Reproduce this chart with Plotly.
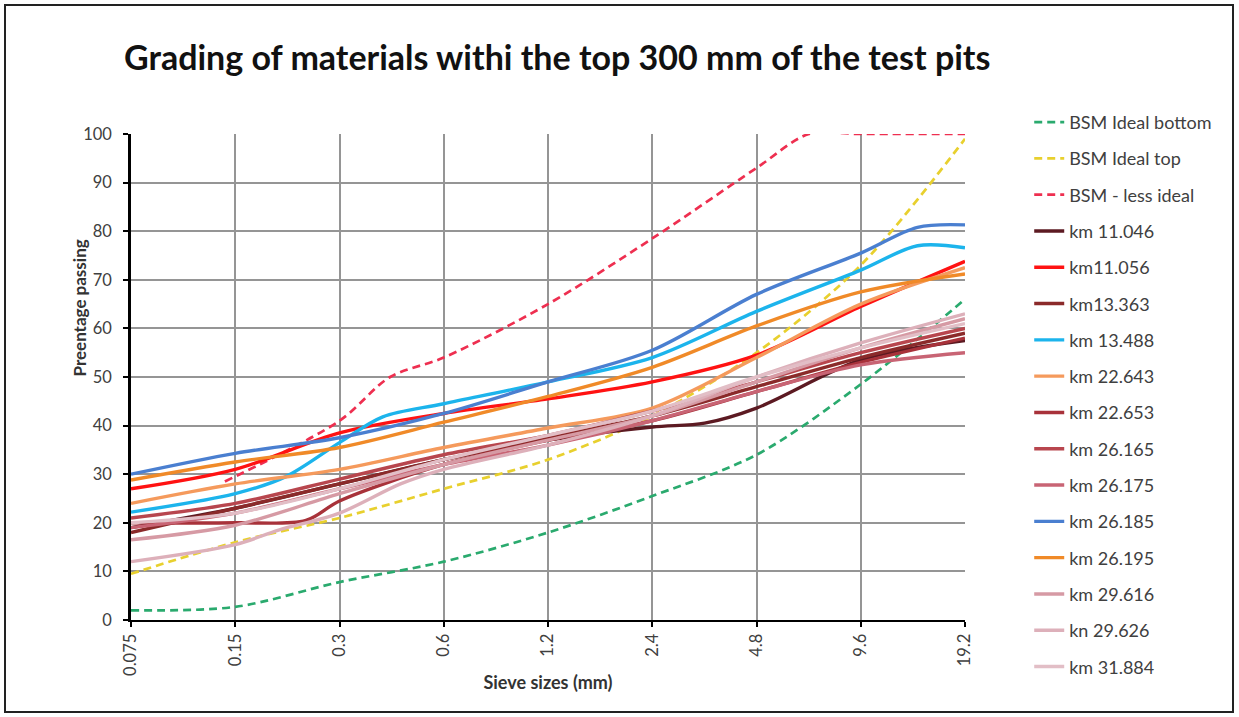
import math
import plotly.graph_objects as go

# ---------------- data ----------------
sieves = [0.075, 0.15, 0.3, 0.6, 1.2, 2.4, 4.8, 9.6, 19.2]
tick_labels = ["0.075", "0.15", "0.3", "0.6", "1.2", "2.4", "4.8", "9.6", "19.2"]

bsm_bottom_x = sieves
bsm_bottom_y = [2, 2.7, 7.8, 12, 18, 25.5, 34, 48.5, 66]

bsm_top_x = sieves
bsm_top_y = [9.5, 16, 21, 27, 33, 42, 55, 73, 99]

bsm_less_x = [0.14, 0.3, 0.42, 0.6, 1.2, 2.4, 4.8, 6.8, 9.6, 19.2]
bsm_less_y = [28.5, 41, 50, 54, 65, 78.5, 93, 100, 100, 100]

km11_046_x = [0.075, 0.15, 0.3, 0.6, 1.2, 2.4, 3.4, 4.8, 9.6, 19.2]
km11_046_y = [19, 23, 28, 33, 37, 39.7, 40.5, 43.6, 53.5, 57.5]

km11_056_x = sieves
km11_056_y = [27, 31, 38.5, 42.5, 45.5, 49, 54.5, 64.5, 73.8]

km13_363_x = sieves
km13_363_y = [18, 23, 28, 33, 37.5, 42, 48, 54, 59]

km13_488_x = [0.075, 0.15, 0.21, 0.3, 0.4, 0.6, 1.2, 2.4, 4.8, 9.6, 14, 19.2]
km13_488_y = [22.2, 26, 29.5, 36.5, 41.8, 44.5, 49, 54, 63.5, 72, 77, 76.6]

km22_643_x = sieves
km22_643_y = [24, 28, 31, 35.5, 39.5, 43.6, 54, 65, 72.5]

km22_653_x = [0.075, 0.15, 0.24, 0.3, 0.6, 1.2, 2.4, 4.8, 9.6, 19.2]
km22_653_y = [20, 20, 20.5, 24.5, 32, 37, 41, 47, 53, 58]

km26_165_x = sieves
km26_165_y = [21, 24, 29, 34, 38, 43, 49, 55, 60]

km26_175_x = sieves
km26_175_y = [19, 22, 27, 32, 36, 41, 47, 52.5, 55]

km26_185_x = [0.075, 0.15, 0.3, 0.6, 1.2, 2.4, 4.8, 9.6, 14, 19.2]
km26_185_y = [30, 34.3, 37.5, 42.5, 49, 55.5, 67, 75.5, 80.8, 81.3]

km26_195_x = sieves
km26_195_y = [28.8, 32.5, 35.5, 40.7, 46, 52, 60.5, 67.5, 71.2]

km29_616_x = sieves
km29_616_y = [16.5, 19.5, 26, 32, 37, 42, 49, 56, 62]

kn29_626_x = [0.075, 0.15, 0.2, 0.3, 0.45, 0.6, 1.2, 2.4, 4.8, 9.6, 19.2]
kn29_626_y = [12, 15.5, 18.5, 22, 28, 31, 36, 42, 50, 57, 63]

km31_884_x = sieves
km31_884_y = [20, 22, 27, 33, 38, 43, 50, 56, 61]

# ---------------- styling ----------------
series = [
    ("BSM Ideal bottom", bsm_bottom_x, bsm_bottom_y, "#2AAA6E", "dash"),
    ("BSM Ideal top", bsm_top_x, bsm_top_y, "#E8D02E", "dash"),
    ("BSM - less ideal", bsm_less_x, bsm_less_y, "#EE2F50", "dash"),
    ("km 11.046", km11_046_x, km11_046_y, "#5C1A22", "solid"),
    ("km11.056", km11_056_x, km11_056_y, "#FF1212", "solid"),
    ("km13.363", km13_363_x, km13_363_y, "#8B2A2A", "solid"),
    ("km 13.488", km13_488_x, km13_488_y, "#1CB4EC", "solid"),
    ("km 22.643", km22_643_x, km22_643_y, "#F59A5C", "solid"),
    ("km 22.653", km22_653_x, km22_653_y, "#A8323A", "solid"),
    ("km 26.165", km26_165_x, km26_165_y, "#B8464E", "solid"),
    ("km 26.175", km26_175_x, km26_175_y, "#C86474", "solid"),
    ("km 26.185", km26_185_x, km26_185_y, "#4A7FD0", "solid"),
    ("km 26.195", km26_195_x, km26_195_y, "#F08A28", "solid"),
    ("km 29.616", km29_616_x, km29_616_y, "#D69AA4", "solid"),
    ("kn 29.626", kn29_626_x, kn29_626_y, "#DDB0BA", "solid"),
    ("km 31.884", km31_884_x, km31_884_y, "#E2BEC6", "solid"),
]

FONT = "Lato, 'Open Sans', sans-serif"

fig = go.Figure()
for i, (name, xs, ys, color, dash) in enumerate(series):
    fig.add_trace(go.Scatter(
        x=xs, y=ys, name=name, mode="lines",
        legendgroup=str(i),
        line=dict(color=color, width=3.4 if dash == "solid" else 2.7,
                  dash="8px,5px" if dash == "dash" else "solid",
                  shape="spline", smoothing=0.9),
    ))

fig.update_layout(
    width=1239, height=717,
    margin=dict(l=131, r=274, t=134, b=97),
    paper_bgcolor="white", plot_bgcolor="white",
    font=dict(family=FONT, color="#404040"),
    title=dict(text="<b>Grading of materials withi the top 300 mm of the test pits</b>",
               x=124 / 1239, xanchor="left", y=1 - 58 / 717, yanchor="middle",
               font=dict(size=34, color="#111111", family=FONT)),
    showlegend=True,
    legend=dict(x=1.077, xanchor="left", y=1.062, yanchor="top",
                font=dict(size=18, color="#404040", family=FONT),
                tracegroupgap=9.9, bgcolor="rgba(0,0,0,0)", maxheight=710),
    xaxis=dict(type="log",
               range=[math.log10(sieves[0]), math.log10(sieves[-1])],
               tickvals=sieves, ticktext=tick_labels, tickangle=-90,
               tickfont=dict(size=16.5, color="#404040"),
               showgrid=True, gridcolor="#959595", gridwidth=1.6,
               showline=True, linecolor="black", linewidth=2.2,
               ticks="outside", ticklen=5, tickcolor="black", tickwidth=2,
               zeroline=False,
               title=dict(text="<b>Sieve sizes (mm)</b>", standoff=2,
                          font=dict(size=18, color="#333333"))),
    yaxis=dict(range=[0, 100], dtick=10,
               tickfont=dict(size=16.5, color="#404040"),
               ticklabelstandoff=8,
               showgrid=True, gridcolor="#959595", gridwidth=1.6,
               showline=True, linecolor="black", linewidth=2.6,
               ticks="outside", ticklen=5, tickcolor="black", tickwidth=2,
               zeroline=False),
)

fig.add_annotation(text="<b>Preentage passing</b>", textangle=-90,
                   xref="paper", yref="paper", x=(66 - 131) / 834, y=(620 - 308) / 486,
                   showarrow=False, font=dict(size=17, color="#333333", family=FONT))

# outer frame
fig.add_shape(type="rect", xref="paper", yref="paper",
              x0=(5 - 131) / 834, x1=(1233 - 131) / 834,
              y0=(620 - 712) / 486, y1=(620 - 5) / 486,
              line=dict(color="#222222", width=2))

fig.write_html("out.html")
